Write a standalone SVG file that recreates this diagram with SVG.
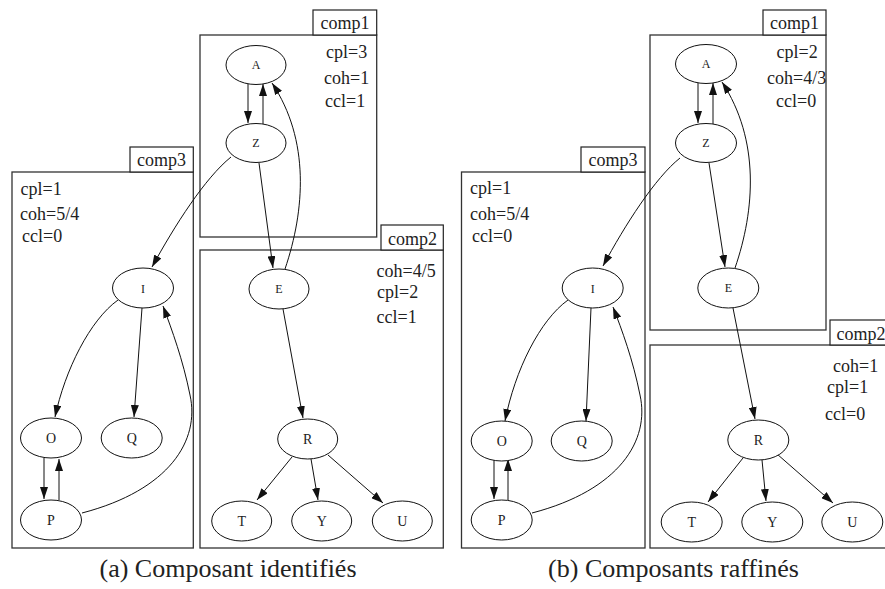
<svg xmlns="http://www.w3.org/2000/svg" width="885" height="589" viewBox="0 0 885 589">
<style>
.box{fill:none;stroke:#333;stroke-width:1.3}
.lbl{fill:#fff;stroke:#222;stroke-width:1.2}
.node ellipse{fill:#fff;stroke:#111;stroke-width:1}
.nt{font-family:"Liberation Serif","Times New Roman",Times,serif;font-size:14px;fill:#222;text-anchor:middle}
.small{font-size:12px}
.mt{font-family:"Liberation Serif","Times New Roman",Times,serif;font-size:18px;fill:#222}
.ct{font-family:"Liberation Serif","Times New Roman",Times,serif;font-size:18px;fill:#222;text-anchor:middle}
.cap{font-family:"Liberation Serif","Times New Roman",Times,serif;font-size:26px;fill:#222;text-anchor:middle}
.e{fill:none;stroke:#111;stroke-width:1;marker-end:url(#ah)}
</style>
<defs>
<marker id="ah" viewBox="0 0 12 8" refX="12" refY="4" markerWidth="12" markerHeight="8" orient="auto" markerUnits="userSpaceOnUse">
<path d="M0,0 L12,4 L0,8 z" fill="#111"/>
</marker>
</defs>
<rect width="885" height="589" fill="#fff"/>

<!-- Panel (a) clusters -->
<g id="a-comp1">
<rect class="box" x="200" y="35" width="176.7" height="202"/>
<rect class="lbl" x="313" y="10" width="63.7" height="25"/>
<text class="ct" x="345" y="29">comp1</text>
<text class="mt" x="326" y="58">cpl=3</text>
<text class="mt" x="324" y="84">coh=1</text>
<text class="mt" x="325" y="107">ccl=1</text>
</g>
<g id="a-comp2">
<rect class="box" x="200" y="250" width="243.3" height="298"/>
<rect class="lbl" x="381" y="225" width="62.3" height="25"/>
<text class="ct" x="412.5" y="245">comp2</text>
<text class="mt" x="376.5" y="277">coh=4/5</text>
<text class="mt" x="377" y="298">cpl=2</text>
<text class="mt" x="376.5" y="323">ccl=1</text>
</g>
<g id="a-comp3">
<rect class="box" x="12" y="172" width="181.3" height="376"/>
<rect class="lbl" x="130" y="147" width="63.3" height="25"/>
<text class="ct" x="161.5" y="166">comp3</text>
<text class="mt" x="20.5" y="195">cpl=1</text>
<text class="mt" x="20" y="220">coh=5/4</text>
<text class="mt" x="22" y="242">ccl=0</text>
</g>

<!-- Panel (b) clusters -->
<g id="b-comp1">
<rect class="box" x="650" y="35" width="176" height="295"/>
<rect class="lbl" x="763" y="10" width="63" height="25"/>
<text class="ct" x="794.5" y="29">comp1</text>
<text class="mt" x="776.5" y="58">cpl=2</text>
<text class="mt" x="767" y="84">coh=4/3</text>
<text class="mt" x="776" y="107">ccl=0</text>
</g>
<g id="b-comp2">
<rect class="box" x="650" y="345" width="250" height="203"/>
<rect class="lbl" x="830" y="320" width="70" height="25"/>
<text class="mt" x="836.5" y="340">comp2</text>
<text class="mt" x="833" y="372">coh=1</text>
<text class="mt" x="827" y="393">cpl=1</text>
<text class="mt" x="825" y="420">ccl=0</text>
</g>
<g id="b-comp3">
<rect class="box" x="461.5" y="172" width="183.5" height="376"/>
<rect class="lbl" x="581" y="147" width="64" height="25"/>
<text class="ct" x="613" y="166">comp3</text>
<text class="mt" x="470" y="194">cpl=1</text>
<text class="mt" x="470" y="220">coh=5/4</text>
<text class="mt" x="472" y="242">ccl=0</text>
</g>

<!-- Connectors -->
<g id="connectors">
<!-- (a) -->
<path class="e" d="M248,84 L248,123"/>
<path class="e" d="M263,124 L263,84"/>
<path class="e" d="M285,269 C305,210 310,140 272,83"/>
<path class="e" d="M259,163 L273,268"/>
<path class="e" d="M231,157 C205,178 175,225 152,267"/>
<path class="e" d="M283,309 L303,418"/>
<path class="e" d="M292,457 L257,500"/>
<path class="e" d="M311,459 L318,500"/>
<path class="e" d="M328,455 L383,503"/>
<path class="e" d="M118,300 C90,320 65,370 55,417"/>
<path class="e" d="M142,308 L134,417"/>
<path class="e" d="M82,513 C170,490 200,440 190,395 C183,360 172,330 163,306"/>
<path class="e" d="M44,458 L44,499"/>
<path class="e" d="M59,500 L59,459"/>
<!-- (b) -->
<path class="e" d="M698,83 L698,123"/>
<path class="e" d="M713,124 L713,83"/>
<path class="e" d="M735,268 C755,210 760,140 722,82"/>
<path class="e" d="M709,163 L725,267"/>
<path class="e" d="M680,158 C655,178 625,225 603,266"/>
<path class="e" d="M733,308 L755,419"/>
<path class="e" d="M743,458 L708,502"/>
<path class="e" d="M762,460 L766,501"/>
<path class="e" d="M777,454 L833,503"/>
<path class="e" d="M568,300 C540,320 515,370 505,421"/>
<path class="e" d="M591,308 L586,421"/>
<path class="e" d="M532,513 C620,490 650,440 640,395 C633,360 622,330 613,307"/>
<path class="e" d="M494,458 L494,499"/>
<path class="e" d="M508,500 L508,459"/>
</g>

<!-- Nodes (a) -->
<g id="a-A" class="node"><ellipse cx="256" cy="65" rx="30" ry="19.5"/><text class="nt small" x="256" y="69">A</text></g>
<g id="a-Z" class="node"><ellipse cx="256" cy="143" rx="30" ry="19.5"/><text class="nt small" x="256" y="147">Z</text></g>
<g id="a-E" class="node"><ellipse cx="279" cy="289" rx="30" ry="20"/><text class="nt small" x="279" y="293">E</text></g>
<g id="a-R" class="node"><ellipse cx="307.7" cy="439" rx="30" ry="20"/><text class="nt" x="307.7" y="444">R</text></g>
<g id="a-T" class="node"><ellipse cx="241.7" cy="521" rx="30" ry="20"/><text class="nt" x="241.7" y="526">T</text></g>
<g id="a-Y" class="node"><ellipse cx="321.7" cy="521" rx="30" ry="20"/><text class="nt" x="321.7" y="526">Y</text></g>
<g id="a-U" class="node"><ellipse cx="402.3" cy="521" rx="30" ry="20"/><text class="nt" x="402.3" y="526">U</text></g>
<g id="a-I" class="node"><ellipse cx="143" cy="288" rx="30.5" ry="20"/><text class="nt small" x="143" y="292.5">I</text></g>
<g id="a-O" class="node"><ellipse cx="51" cy="438" rx="30.5" ry="20"/><text class="nt" x="51" y="443">O</text></g>
<g id="a-Q" class="node"><ellipse cx="131.7" cy="438" rx="30.5" ry="20"/><text class="nt" x="131.7" y="443">Q</text></g>
<g id="a-P" class="node"><ellipse cx="51" cy="520" rx="30.5" ry="20"/><text class="nt" x="51" y="525">P</text></g>

<!-- Nodes (b) -->
<g id="b-A" class="node"><ellipse cx="706" cy="64" rx="30.5" ry="19.5"/><text class="nt small" x="706" y="68">A</text></g>
<g id="b-Z" class="node"><ellipse cx="706" cy="143" rx="30.5" ry="19.5"/><text class="nt small" x="706" y="147">Z</text></g>
<g id="b-E" class="node"><ellipse cx="728.3" cy="288" rx="30.5" ry="20"/><text class="nt small" x="728.3" y="292">E</text></g>
<g id="b-R" class="node"><ellipse cx="758.3" cy="440" rx="30.5" ry="20"/><text class="nt" x="758.3" y="445">R</text></g>
<g id="b-T" class="node"><ellipse cx="691.7" cy="522" rx="30.5" ry="20"/><text class="nt" x="691.7" y="527">T</text></g>
<g id="b-Y" class="node"><ellipse cx="772.3" cy="522" rx="30.5" ry="20"/><text class="nt" x="772.3" y="527">Y</text></g>
<g id="b-U" class="node"><ellipse cx="852.3" cy="522" rx="30.5" ry="20"/><text class="nt" x="852.3" y="527">U</text></g>
<g id="b-I" class="node"><ellipse cx="592.7" cy="288" rx="30.5" ry="20"/><text class="nt small" x="592.7" y="292.5">I</text></g>
<g id="b-O" class="node"><ellipse cx="501.7" cy="441" rx="30.5" ry="20"/><text class="nt" x="501.7" y="446">O</text></g>
<g id="b-Q" class="node"><ellipse cx="581.7" cy="441" rx="30.5" ry="20"/><text class="nt" x="581.7" y="446">Q</text></g>
<g id="b-P" class="node"><ellipse cx="501.7" cy="520" rx="30.5" ry="20"/><text class="nt" x="501.7" y="525">P</text></g>

<text class="cap" x="228" y="577">(a) Composant identifiés</text>
<text class="cap" x="673.5" y="577">(b) Composants raffinés</text>
</svg>
